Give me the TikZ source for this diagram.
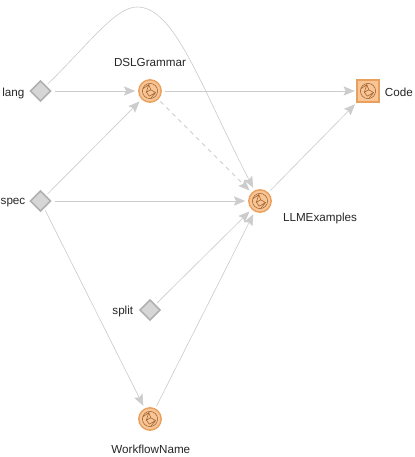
\documentclass[tikz,border=0pt]{standalone}
\usepackage{fontspec}
\setmainfont{Liberation Sans}
\usepackage{xcolor}
\usetikzlibrary{arrows.meta, shapes.geometric}
\definecolor{edgegray}{HTML}{CCCCCC}
\definecolor{softorange}{HTML}{F8C597}
\definecolor{rimorange}{HTML}{E9A05C}
\definecolor{glyphbrown}{HTML}{A0602A}
\definecolor{softgray}{HTML}{D6D6D6}
\definecolor{rimgray}{HTML}{B0B0B0}
\newcommand{\globeglyph}{%
  \draw[glyphbrown, line width=0.4pt] (path picture bounding box.center) circle (0.19);
  \draw[glyphbrown, line width=0.4pt, shift={(path picture bounding box.center)}]
    (-0.17,0.06) -- (-0.03,0.16) -- (0.02,0.03) -- (0.14,-0.04) -- (0.03,-0.17)
    (-0.03,0.16) -- (-0.09,-0.03) -- (0.02,0.03) (-0.09,-0.03) -- (-0.02,-0.13) -- (0.14,-0.04);
}
\begin{document}
\begin{tikzpicture}[
  res/.style={circle, draw=rimorange, fill=softorange, line width=1pt, minimum size=0.56cm, inner sep=0pt, outer sep=0.09cm, path picture={\globeglyph}},
  codebox/.style={rectangle, draw=rimorange, fill=softorange, line width=1pt, minimum size=0.56cm, inner sep=0pt, outer sep=0.05cm, path picture={\globeglyph}},
  param/.style={diamond, aspect=1, draw=rimgray, fill=softgray, line width=1.2pt, minimum size=0.56cm, inner sep=0pt, outer sep=0.07cm},
  lbl/.style={inner sep=0pt, font=\fontsize{8.3}{9}\selectfont, text=black!85},
  flow/.style={draw=edgegray, line width=0.7pt, -{Stealth[length=2.8mm, width=2.3mm, inset=0.5mm]}},
  thin flow/.style={flow, line width=0.45pt}
]
\useasboundingbox (0,0) rectangle (10.35,11.425);
\node[param]   (lang)  at (1.0125,9.15) {};
\node[res]     (dsl)   at (3.75,9.15)   {};
\node[codebox] (code)  at (9.2,9.15)    {};
\node[param]   (spec)  at (1.0125,6.4)  {};
\node[res]     (llm)   at (6.5,6.4)     {};
\node[param]   (split) at (3.75,3.675)  {};
\node[res]     (wf)    at (3.75,0.95)   {};
\coordinate    (peak)  at (3.425,11.25);

\node[lbl] (langlbl)  at (0.335,9.1)   {lang};
\node[lbl] (speclbl)  at (0.325,6.35)  {spec};
\node[lbl] (splitlbl) at (3.07,3.64)   {split};
\node[lbl] (codelbl)  at (9.97,9.11)   {Code};
\node[lbl] (dsllbl)   at (3.75,9.87)   {DSLGrammar};
\node[lbl] (llmlbl)   at (8,5.96)      {LLMExamples};
\node[lbl] (wflbl)    at (3.77,0.18)   {WorkflowName};

\draw[flow] (lang) -- (dsl);
\draw[flow] (dsl) -- (code);
\draw[flow, dashed] (dsl) -- (llm);
\draw[thin flow] (spec) -- (dsl);
\draw[flow] (spec) -- (llm);
\draw[thin flow] (spec) -- (wf);
\draw[thin flow] (split) -- (llm);
\draw[thin flow] (wf) -- (llm);
\draw[thin flow] (llm) -- (code);
\draw[thin flow] (lang) .. controls (2.2,10.3) and (2.875,11.25) .. (peak) .. controls (4.375,11.25) and (5,9.3) .. (llm);
\end{tikzpicture}
\end{document}
